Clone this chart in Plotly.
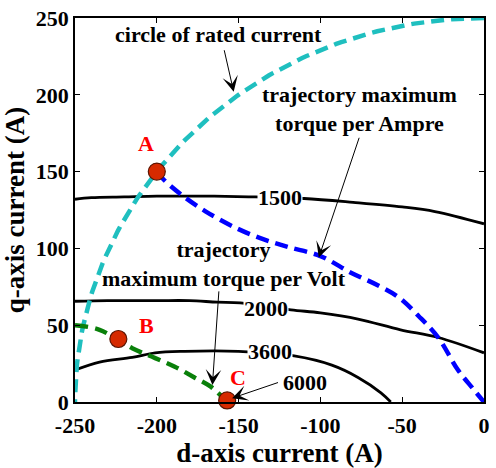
import numpy as np
import plotly.graph_objects as go

# rated current circle (radius 250 A), drawn over the second quadrant
rated_current = 250
theta = np.linspace(np.pi / 2, np.pi, 120)
circle_d = rated_current * np.cos(theta)
circle_q = rated_current * np.sin(theta)

# maximum torque per Ampere trajectory
mtpa_d = [-200, -196, -185, -170, -151, -135, -120, -100, -81, -65, -52, -40, -28, -16, -7, 0]
mtpa_q = [150, 145, 135, 124, 113, 106, 101, 95, 84, 76, 68, 56, 42, 21, 9, 0]

# maximum torque per Volt trajectory
mtpv_d = [-250, -235, -215, -201, -189, -177, -167, -158]
mtpv_q = [50, 47, 35, 28.6, 23, 16, 10, 1]

# constant-speed contours (rpm)
c1500_d = [-250, -240, -220, -200, -180, -165, -140, -110, -80, -50, -30, 0]
c1500_q = [132, 133, 133.5, 134, 134, 134, 133.5, 132.5, 130, 127, 124, 116]
c2000_d = [-250, -230, -200, -180, -163, -149, -118, -100, -77, -51, -28, 0]
c2000_q = [65.6, 66, 66, 66, 65, 64.5, 60, 58, 54, 47, 42, 32]
c3600_d = [-250, -235, -215, -201, -183, -150, -116, -93, -77, -63, -57]
c3600_q = [20.8, 26, 29, 32, 33, 33, 30, 24, 16, 6, 0]

# operating points
pt_labels = ["A", "B", "C"]
pt_d = [-200, -223.5, -157]
pt_q = [150, 41, 1]

# contour labels
speed_labels = ["1500", "2000", "3600"]
speed_label_d = [-124.5, -133.5, -131]
speed_label_q = [133, 61, 33]

FONT = "Liberation Serif"
TXT = 22
cyan = "rgb(31,191,191)"
blue = "rgb(0,0,255)"
green = "rgb(10,128,10)"

fig = go.Figure()

for xd, yq in [(c1500_d, c1500_q), (c2000_d, c2000_q), (c3600_d, c3600_q)]:
    fig.add_trace(go.Scatter(x=xd, y=yq, mode="lines",
                             line=dict(color="black", width=2.8, shape="spline"),
                             hoverinfo="skip"))

fig.add_trace(go.Scatter(x=circle_d, y=circle_q, mode="lines",
                         line=dict(color=cyan, width=4.5, dash="13px,7px")))
fig.add_trace(go.Scatter(x=mtpa_d, y=mtpa_q, mode="lines",
                         line=dict(color=blue, width=4.5, dash="13px,7px", shape="spline")))
fig.add_trace(go.Scatter(x=mtpv_d, y=mtpv_q, mode="lines",
                         line=dict(color=green, width=4.5, dash="13px,7px", shape="spline")))

fig.add_trace(go.Scatter(x=pt_d, y=pt_q, mode="markers",
                         marker=dict(size=17, color="rgb(214,42,0)",
                                     line=dict(color="rgb(90,20,0)", width=1.2)),
                         cliponaxis=False))


def bold(s):
    return "<b>%s</b>" % s


annotations = []
for lbl, xd, yq in zip(speed_labels, speed_label_d, speed_label_q):
    annotations.append(dict(x=xd, y=yq, text=bold(lbl), showarrow=False,
                            bgcolor="white", borderpad=0,
                            font=dict(family=FONT, size=TXT, color="black")))

# point labels
for lbl, xd, yq in zip(pt_labels, [-206.5, -206, -150.5], [168, 50, 16]):
    annotations.append(dict(x=xd, y=yq, text=bold(lbl), showarrow=False,
                            font=dict(family=FONT, size=TXT, color="red")))

arrow_common = dict(showarrow=True, arrowhead=3, arrowsize=2.6, arrowwidth=1,
                    arrowcolor="black", xref="x", yref="y", axref="x", ayref="y",
                    text="")

# pointer arrows
annotations.append(dict(arrow_common, x=-153, y=202, ax=-159, ay=230))
annotations.append(dict(arrow_common, x=-101, y=94, ax=-76, ay=173))
annotations.append(dict(arrow_common, x=-166, y=11, ax=-162, ay=73))
annotations.append(dict(arrow_common, x=-154, y=2.5, ax=-125, ay=13))

# captions
captions = [
    ("circle of rated current", -162, 239.5),
    ("trajectory maximum<br>torque per Ampre", -76, 191),
    ("trajectory<br>maximum torque per Volt", -159, 90),
    ("6000", -109.5, 13),
]
for txt, xd, yq in captions:
    annotations.append(dict(x=xd, y=yq, text=bold(txt), showarrow=False,
                            align="center",
                            font=dict(family=FONT, size=TXT, color="black")))

axis_common = dict(showgrid=False, zeroline=False, showline=True, linecolor="black",
                   linewidth=1.5, mirror="ticks", ticks="inside", ticklen=5,
                   tickcolor="black", tickwidth=1,
                   tickfont=dict(family=FONT, size=22, color="black"))

x_ticks = [-250, -200, -150, -100, -50, 0]
y_ticks = [0, 50, 100, 150, 200, 250]

fig.update_layout(
    width=496, height=468,
    margin=dict(l=75, r=6, t=17, b=66),
    paper_bgcolor="white", plot_bgcolor="white",
    showlegend=False,
    annotations=annotations,
    xaxis=dict(axis_common, range=[-250, 0], tickvals=x_ticks,
               ticktext=[bold(v) for v in x_ticks], ticklabelstandoff=3,
               title=dict(text=bold("d-axis current (A)"), standoff=0,
                          font=dict(family=FONT, size=27, color="black"))),
    yaxis=dict(axis_common, range=[0, 250], tickvals=y_ticks,
               ticktext=[bold(v) for v in y_ticks],
               title=dict(text=bold("q-axis current (A)"), standoff=4,
                          font=dict(family=FONT, size=27, color="black"))),
)

fig.write_html("out.html")
